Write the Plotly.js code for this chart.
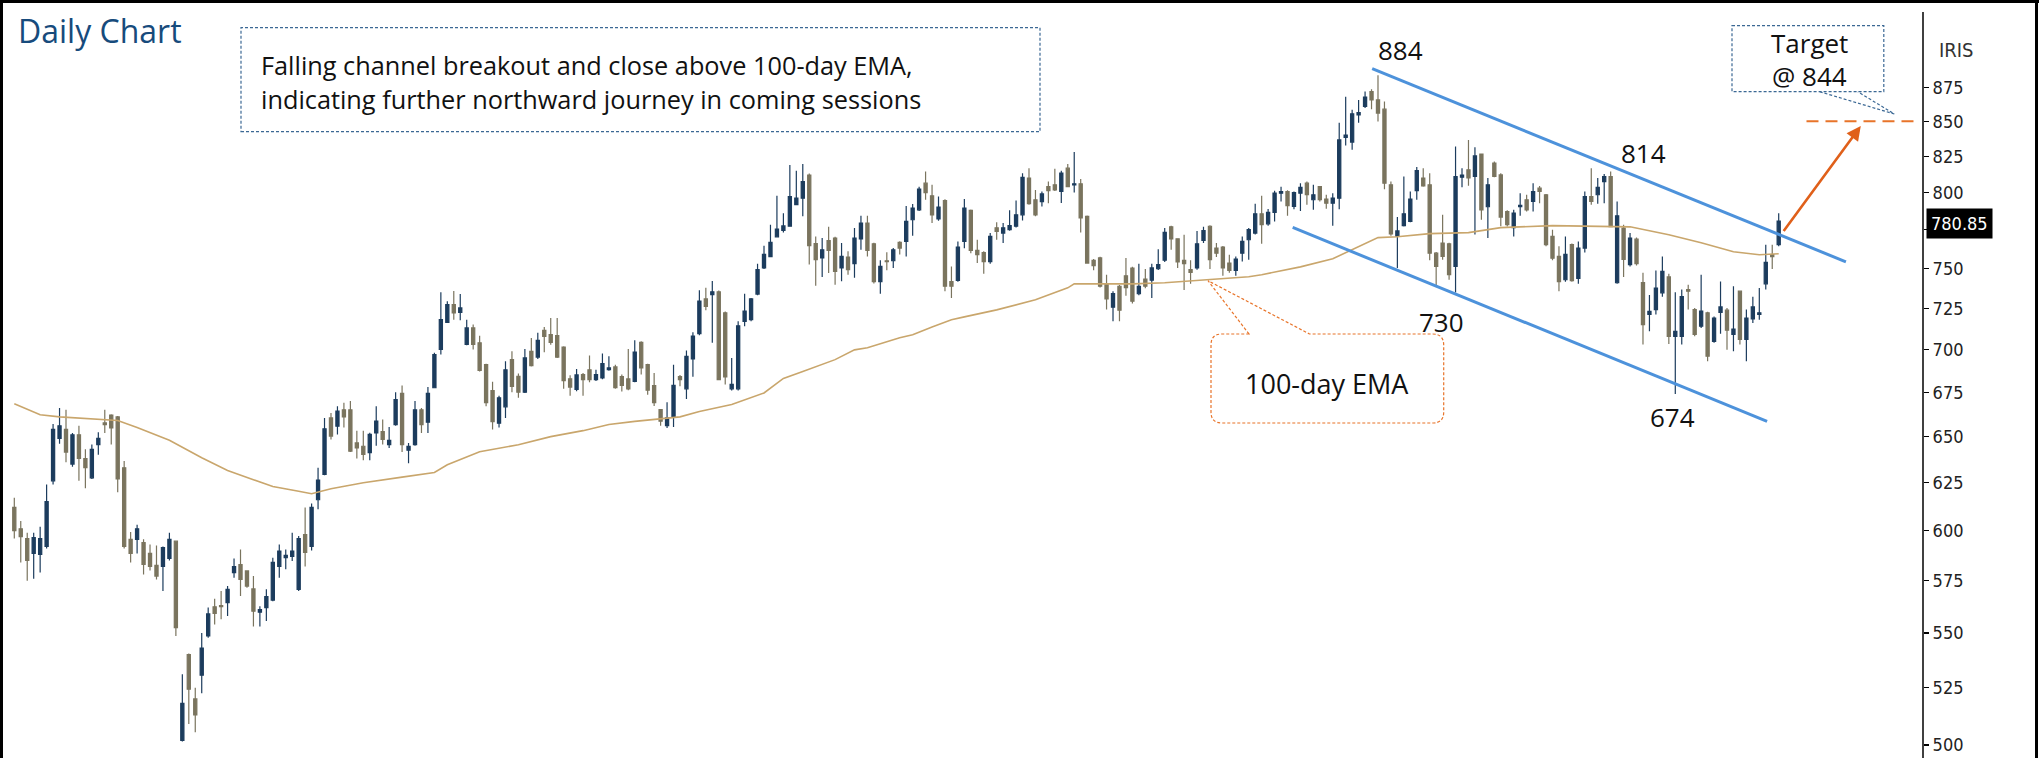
<!DOCTYPE html>
<html><head><meta charset="utf-8">
<script src="https://cdn.plot.ly/plotly-3.0.1.min.js"></script>
<style>html,body{margin:0;padding:0;background:#fff;overflow:hidden}#chart{width:2039px;height:758px}</style>
</head><body><div id="chart"></div>
<script>
// ---- data (IRIS daily) ----
const opens = [612,601,596,588.5,588,592,626,649,654,635,
651,638,627.6,645.6,657.6,662,661,633,595.6,595.6,
594,588.5,582.6,582,586,594.7,502,540,520,530.6,
548.6,562.4,563,564.4,579,583,579.8,571,559.8,562,
565.6,582,586.4,587,570.8,598,592,616,629.4,660.4,
655.8,665,665,646.5,644.7,641.2,652,652.8,645.6,656.7,
674.3,642.5,645.6,665,658,677.6,700,716.4,727.3,722.5,
703,713,704,691,676,657.5,666.7,694,684.2,675,
698.9,695.5,711.5,708.9,708.3,701.5,682.8,676.6,685.2,688,
682.3,683.3,688.1,689.7,684,682.7,681.3,704.3,691,678.9,
665.1,656.1,661,684,677,694.4,709.5,730.8,733.4,735.2,
722.2,677,677,717,718,733.8,750.3,757.6,770.4,774.6,
777.4,791.8,796.2,812,766,756.7,768,769.6,750.3,757.3,
753,769,779.5,765.9,741.6,754.9,754.9,766.8,767.4,781.7,
788.3,806.4,797.8,782.2,794.6,741.7,742.4,767.4,787.9,761.6,
760.2,754.4,776.4,772.9,775.1,777.4,785,809.9,795.1,793.9,
804,805.3,800.8,816.8,805.3,806,783.9,755.2,756.7,740.3,
725.7,738.7,745.3,750.2,734,743.2,742.5,749.8,755.3,777,
769.1,755.2,749.2,750.3,768.1,777.4,763.1,763.8,753.4,748.8,
759.8,768.5,772.9,785.7,779,786.6,799.6,800.7,790.6,799.6,
806.4,795.1,804,795.6,792.8,796.2,838.5,835.1,854.6,860.8,
871.8,865.6,858.8,805.3,770.9,777.8,780.6,801.3,809.9,805.3,
759.8,766.4,765.9,751.3,810.5,815.6,811,826.6,790.4,820.3,
812.1,787.2,776.4,790.5,795.1,794,803,798.5,770.7,757.7,
742.8,765.3,743.7,763.1,797.3,798.5,807.5,811,740.9,776.2,
752.4,768.9,741,721.2,724.2,734.6,744.6,707.9,707.9,736.6,
724.2,714,722.2,704.9,722.5,723.8,709,735.6,706,718.4,
721.2,740.2,758.8,765.3];
const highs = [617,605,599,599,602,624,657,666,665,652,
656,643,645.6,652.4,665,662.5,661.5,636.6,599.3,603,
595.6,593,592.5,592,599,595,531,540.5,525,550,
562,566.3,570,572.4,586,590.5,580,577.3,562.6,570.8,
586.4,593,590.5,599,597.3,612,614,633,660.4,663.2,
667,669,670,653.3,653.3,652.1,667,659.5,655.4,675,
678.9,646.5,670,666,678,698,735,729.4,735.8,733.8,
718,715,708.3,691.5,681,673,693,699,685.8,700.3,
706.9,710,713.5,719,719,702,684.8,688.5,686.2,696.4,
688,697.6,696,691,685.2,700.3,705.5,705,691.6,686.2,
665.5,669.3,691,685,699.4,710.3,736.2,737.7,742,736,
723,695,717,734,731.4,753,764.6,778.4,797.8,786,
819,815,819.7,813,770.7,769.6,777,770.5,766.4,761,
776.2,784.3,784.3,766.5,755.2,760.4,763.1,767.5,790.9,792.2,
804,814.4,805.3,797.3,795.5,751.3,767.4,795.6,788.5,768.5,
761,773,780,779.6,788,794.6,813.3,816.8,801.8,800.7,
807.5,816.3,815,819.7,828,809.2,784.5,756,757.5,746,
735.6,739.5,756.7,751,753,749.6,753,762.4,776.2,777.8,
769.5,771.8,755.2,774.3,777,778,766.4,764.5,758.8,757.7,
770.7,776.2,792.4,797.8,788.9,801.3,804,801.5,800.7,806.4,
807.5,805.3,804.5,798.5,799.6,848.9,868,858.3,865.6,871.8,
873.5,884,864.4,807.5,783.5,811,800.7,817.5,816.8,813.3,
760.5,785,766.5,832,816.8,836.6,831.5,827,809.9,821.5,
813.3,788,788.3,799.6,798.5,806.4,804.5,799,775.1,764.2,
770.7,766,767.4,800.7,816.8,809.9,812.8,814.4,794,778.4,
772.9,770,747.3,733.2,748.7,757.7,746.6,735,736.6,739.7,
725.2,746,722.8,720,741.7,725.2,738.7,736,724.2,732.2,
737.6,765.3,765.3,786];
const lows = [596,584,575,576,579,591,624,646,636,633.5,
626,622,627,640,652,645.6,620,591,584,588.5,
578,580,575.6,570,585,548.6,501.5,509,505.5,522.5,
547.8,554,556.4,558,576.5,567.6,571.6,553,553,555.6,
565,576.5,580.6,584.7,570,582,590,611,629,648.4,
651.2,655,641.5,638,637,637,645,645.6,643.8,656,
641.5,635.4,645,652,652,677.5,697,716,718,717.6,
702.5,700,687,667,654,655,660.4,675,671.8,674.5,
690,694.4,698.4,702.9,695,677,673,675.6,673,680.7,
681.5,682.5,687.5,677,675.4,676.2,680.7,685.2,673.6,667.1,
656.1,654.8,655.4,678.4,671.2,684,708.5,723.8,704,682,
679.5,676,676,714,717,733,749.6,757.2,770,773.3,
777,791.5,784,752.5,739,744.6,747,739.7,741.8,746,
744,762,757.7,740.5,734,748.8,750.3,759,757.7,771.2,
787.5,795.1,779.5,781,735.6,731.4,741.5,763,759.8,753.4,
746.6,753,768.5,766.4,774.5,776.5,781.2,791.8,784,790.6,
792.8,801,793,803.6,800,773.3,753,748.8,737.9,724.2,
717,717,732.8,727.9,733,737.5,731.4,749,754.1,762,
750.3,736.4,740.3,749.2,766.4,749.6,757.3,745.4,747.2,745.4,
754.4,755.6,772,765.9,777.8,780.6,794,784.3,788.8,787.5,
791.8,788.3,794,789.1,777.8,788.8,832.6,829.6,849,859.6,
858.8,849.8,802.3,771.2,750.3,777.3,780,795.1,804,755.2,
738.7,755.6,742.8,734.8,803.6,804.6,772,781.7,769.6,810.5,
777.4,777.2,770.7,784.3,787.2,787.2,792.8,764.2,755.2,735.6,
741.6,741.6,740.3,760.2,791.8,792.4,792.8,776.8,740.3,744.6,
751.3,751.8,703,710.9,721.2,732.2,703.3,674,703,724.2,
707.9,713,693,704,709.5,699.9,698.9,703,693,716,
718,736.6,749.6,764.2];
const closes = [600,597,585,596.5,596,615,654,656,641.5,651,
638,633,643,649,656.7,654.8,627,592,588.5,601,
583,582,577.3,591.4,595.6,552.5,518,524.3,513,543,
559,559.2,562.4,570.8,582,575.6,572.4,560.3,561,567.3,
584,589.7,587.5,589.7,596,589,612,626.4,654.3,650.3,
664.2,661,642,643.8,640.2,651.2,658.6,648.4,648,670.8,
645.6,644.7,665,656.7,674.3,697,718,727.3,722.2,725.2,
713,703,687.7,669,658.3,671.8,688,678.4,675,695,
690.5,705.5,707.9,704.3,695.5,681.7,678,685,682.3,682.3,
685.2,691.6,689.1,677.6,679,677,698.5,689.1,676.2,669,
658.6,660.4,679,682.3,696,708,729.4,726.2,735.2,682.3,
683.9,679.5,714.3,723.2,730.8,749.2,759,766.8,775.5,777.6,
797.3,796.2,807.5,764.6,755.6,762,761.6,748.1,757.7,749.2,
769.6,779.5,761.6,741.6,751.3,754.3,762,763.1,780.6,789.5,
802.3,800,785,790.2,738.7,738.7,763.8,789.5,761.6,758.8,
754.4,770.7,774,776.4,777.8,785,810.5,792.4,785,799.1,
801.3,801.8,813.3,804,806,783,753.4,751.8,738.7,730.8,
734.1,723.8,737.9,729.4,738.7,738.7,750.3,752.4,773.3,769.1,
754.1,753,747.5,765.9,774.6,755.6,759.8,750.3,748.8,756,
767.4,775.1,785.7,778.4,786.6,799.6,800.7,791.1,800,803.6,
798.5,798.5,795.1,792.8,796.2,836.6,840,855.4,856.3,867.6,
865.6,856,806.4,772.3,774.3,785.7,795.6,815,804.6,759.8,
751.3,757.7,746,811,812,810,825.3,788.3,805.3,811,
783.5,778.4,786.1,791.4,788.3,800.7,800.7,765.3,756.5,741.6,
759,742.2,763.1,797.3,794,803.6,811,777.2,784.3,755.8,
769.6,753,715,723.1,737.6,748.1,707.9,710.9,732.2,735.6,
709,723.2,696,719,725.8,711.6,712.3,706,719,725.8,
722.2,753.9,757.5,780.85];

// 100-day EMA, read at sampled sessions
const emaSession = [0,4,7,13,16,19,24,29,33,37,40,44,46,49,54,60,65,67,72,78,83,88,92,96,101,103,106,111,116,119,122,127,130,132,137,139,142,145,147,152,158,163,164,173,178,183,191,193,199,204,207,211,214,219,225,230,238,245,250,256,261,266,270,273];
const emaValue = [668.4,662.2,661,659.4,659,655,648,638.4,631.5,626.6,623,620.5,619.2,621.8,625,628,630.5,634.6,641.7,645.5,650,653.3,656.7,658.5,660,661,664,668,674.6,683,687,694,699.8,701,707,708.8,713.6,717.9,719.7,724,730.2,737.7,740.2,740.2,740.9,742.5,744.7,746,751,756.2,762,769.9,770.5,772.5,773.2,776.5,777.8,777.1,777,771.8,766.6,760.7,758.8,759.4];

// falling channel (session, price)
const upperSession = [210.1, 283.4], upperPrice = [888.9, 754.2];
const lowerSession = [197.8, 271.2], lowerPrice = [776.6, 658.5];
const targetSession = [277.3, 294.8], targetPrice = [850, 850];
const arrowFrom = [273.6, 773.3], arrowTo = [285.7, 846.6];
const lastClose = 780.85;

const tickVals = [500,525,550,575,600,625,650,675,700,725,750,775,800,825,850,875];
const tickText = tickVals.map(v => v === 775 ? '' : String(v));

const pivotLabels = ['884','814','730','674'];
const noteLines = ['Falling channel breakout and close above 100-day EMA,', 'indicating further northward journey in coming sessions'];

// ---- layout helpers (pixel placement of decorations) ----
const W = 2039, H = 758, PW = 1923, STEP = 6.463, X0 = 14.3;
const px = v => v / PW;
const py = v => 1 - v / H;
const sessions = opens.map((_, i) => i);

const BLUE = '#1c3c5d', OLIVE = '#7a745e';
const TXT = 'Open Sans, Lato, sans-serif';

const traces = [
  {type:'scatter', mode:'lines', x: emaSession, y: emaValue, line:{color:'#c9a66c', width:1.6}, hoverinfo:'skip', showlegend:false},
  {type:'candlestick', x: sessions, open: opens, high: highs, low: lows, close: closes,
   increasing:{line:{color:BLUE, width:1.2}, fillcolor:BLUE},
   decreasing:{line:{color:OLIVE, width:1.2}, fillcolor:OLIVE},
   whiskerwidth:0, hoverinfo:'skip', showlegend:false},
  {type:'scatter', mode:'lines', x: upperSession, y: upperPrice, line:{color:'#4d92db', width:3}, hoverinfo:'skip', showlegend:false},
  {type:'scatter', mode:'lines', x: lowerSession, y: lowerPrice, line:{color:'#4d92db', width:3}, hoverinfo:'skip', showlegend:false},
  {type:'scatter', mode:'lines', x: targetSession, y: targetPrice, line:{color:'#e8742a', width:2, dash:'12px,7px'}, hoverinfo:'skip', showlegend:false}
];

function pathFrom(pts){ // pts of [cmd, x, y, ...] in pixels
  return pts.map(p => p[0] + p.slice(1).reduce((s, v, k) => s + (k ? (k % 2 ? ',' : ' ') : '') + (k % 2 ? py(v) : px(v)), '')).join(' ');
}
function rr(x0, y0, x1, y1, r, ptr){ // rounded rect with callout pointer on top edge
  let s = [];
  s.push(['M', ptr[0], y0]); s.push(['L', ptr[2], ptr[3]]); s.push(['L', ptr[1], y0]);
  s.push(['L', x1 - r, y0]); s.push(['Q', x1, y0, x1, y0 + r]);
  s.push(['L', x1, y1 - r]); s.push(['Q', x1, y1, x1 - r, y1]);
  s.push(['L', x0 + r, y1]); s.push(['Q', x0, y1, x0, y1 - r]);
  s.push(['L', x0, y0 + r]); s.push(['Q', x0, y0, x0 + r, y0]);
  return pathFrom(s) + ' Z';
}

const shapes = [
  {type:'line', xref:'paper', yref:'paper', x0:px(0), x1:px(W), y0:py(1.5), y1:py(1.5), line:{color:'#000', width:3}},
  {type:'line', xref:'paper', yref:'paper', x0:px(1.5), x1:px(1.5), y0:py(0), y1:py(H), line:{color:'#000', width:3}},
  {type:'line', xref:'paper', yref:'paper', x0:px(2036.5), x1:px(2036.5), y0:py(0), y1:py(H), line:{color:'#000', width:3}},
  {type:'line', xref:'paper', yref:'paper', x0:1, x1:1, y0:0, y1:py(12), line:{color:'#000', width:1.5}},
  {type:'rect', xref:'paper', yref:'paper', x0:px(241), x1:px(1040), y0:py(131.7), y1:py(27.7), line:{color:'#3b6894', width:1.2, dash:'3px,2px'}},
  {type:'path', xref:'paper', yref:'paper', path: pathFrom([['M',1732,25.7],['L',1883.8,25.7],['L',1883.8,91.7],['L',1732,91.7],['Z']]), line:{color:'#3b6894', width:1.2, dash:'3px,2px'}},
  {type:'path', xref:'paper', yref:'paper', path: pathFrom([['M',1819.7,91.7],['L',1894.3,114],['L',1857.8,91.7]]), line:{color:'#3b6894', width:1.2, dash:'3px,2px'}},
  {type:'path', xref:'paper', yref:'paper', path: rr(1211, 334, 1443.7, 423, 11, [1249, 1309.5, 1208, 280.7]), line:{color:'#e8742a', width:1.2, dash:'3px,2px'}}
];

function txt(t, x, y, size, color, anchor, fam){
  return {text:t, xref:'paper', yref:'paper', x:px(x), y:py(y), xanchor:anchor||'center', yanchor:'middle', showarrow:false,
          font:{family:fam||TXT, size:size, color:color||'#111'}};
}
const annotations = [
  txt('Daily Chart', 16, 30, 32, '#174b7c', 'left'),
  txt(noteLines[0], 259, 65, 25.3, '#111', 'left'),
  txt(noteLines[1], 259, 99, 25.3, '#111', 'left'),
  txt(pivotLabels[0], 1400, 50, 26),
  txt(pivotLabels[1], 1643, 153, 26),
  txt(pivotLabels[2], 1441, 322, 26),
  txt(pivotLabels[3], 1672, 417, 26),
  txt('Target', 1809, 43, 26),
  txt('@ 844', 1809, 76, 26),
  txt('100-day EMA', 1327, 383, 27),
  txt('IRIS', 1956, 50, 20, '#333', 'center', 'DejaVu Sans Condensed, DejaVu Sans'),
  {text: lastClose.toFixed(2), xref:'paper', yref:'paper', x:px(1926), y:py(224), xanchor:'left', yanchor:'middle', showarrow:false,
   bgcolor:'#000', borderpad:4, font:{family:'DejaVu Sans Condensed, DejaVu Sans', size:18, color:'#fff'}},
  {text:'', xref:'x', yref:'y', x:arrowTo[0], y:Math.log10(arrowTo[1]), axref:'x', ayref:'y', ax:arrowFrom[0], ay:Math.log10(arrowFrom[1]),
   showarrow:true, arrowhead:2, arrowsize:1.1, arrowwidth:2.6, arrowcolor:'#e0601a', standoff:0, startstandoff:0}
];

const layout = {
  width: W, height: H, margin:{l:0, r:W-PW, t:0, b:0},
  paper_bgcolor:'#fff', plot_bgcolor:'#fff', showlegend:false,
  xaxis:{range:[-X0/STEP, (PW - X0)/STEP], visible:false, rangeslider:{visible:false}, fixedrange:true},
  yaxis:{type:'log', side:'right', range:[Math.log10(494.5), Math.log10(942.4)], tickvals:tickVals, ticktext:tickText,
         ticks:'outside', ticklen:5, tickwidth:1.2, tickcolor:'#000', showline:false, showgrid:false, zeroline:false,
         tickfont:{family:'DejaVu Sans Condensed, DejaVu Sans', size:18, color:'#222'}, fixedrange:true},
  yaxis2:{type:'log', overlaying:'y', anchor:'x', side:'right', range:[Math.log10(494.5), Math.log10(942.4)], tickvals:tickVals,
          ticks:'inside', ticklen:4, tickwidth:1.2, tickcolor:'#000', showticklabels:false, showline:false, showgrid:false, zeroline:false},
  shapes: shapes, annotations: annotations
};
Plotly.newPlot('chart', traces, layout, {staticPlot:true, displayModeBar:false});
</script></body></html>
